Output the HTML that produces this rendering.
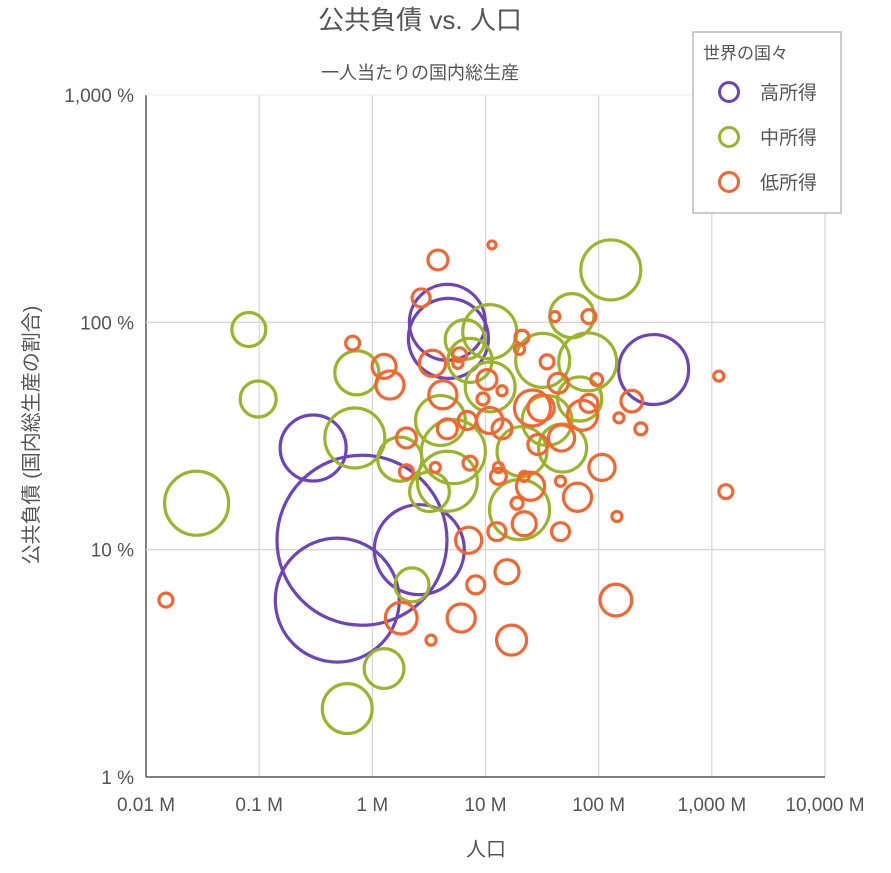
<!DOCTYPE html>
<html><head><meta charset="utf-8">
<style>
body{margin:0;background:#fff;width:891px;height:873px;overflow:hidden}
svg{display:block;font-family:"Liberation Sans","Noto Sans CJK JP",sans-serif}
</style></head>
<body>
<svg id="chart" width="891" height="873">
<text x="420" y="29" text-anchor="middle" font-size="26" fill="#555">公共負債 vs. 人口</text>
<text x="420" y="79" text-anchor="middle" font-size="18" fill="#555">一人当たりの国内総生産</text>
<g id="grid"></g>
<g id="bubbles"></g>
<g id="axes"></g>
<text x="486" y="856" text-anchor="middle" font-size="20" fill="#555">人口</text>
<text transform="translate(38,435) rotate(-90)" text-anchor="middle" font-size="20" fill="#555">公共負債 (国内総生産の割合)</text>
<g>
<rect x="693" y="32" width="148" height="181" fill="#fff" stroke="#bbb" stroke-width="1.5"/>
<text x="703" y="59" font-size="17" fill="#555">世界の国々</text>
<g><circle cx="729" cy="92" r="9.5" fill="none" stroke="#6d44bc" stroke-width="3"/><text x="760" y="99" font-size="19" fill="#555">高所得</text></g>
<g><circle cx="729" cy="137" r="9.5" fill="none" stroke="#9bb42a" stroke-width="3"/><text x="760" y="144" font-size="19" fill="#555">中所得</text></g>
<g><circle cx="729" cy="182" r="9.5" fill="none" stroke="#f4652f" stroke-width="3"/><text x="760" y="189" font-size="19" fill="#555">低所得</text></g>
</g>
</svg>
<script>
// x tick values (population, millions) and y tick values (debt %)
const xTicks=[0.01,0.1,1,10,100,1000,10000];
const xTickLabels=["0.01 M","0.1 M","1 M","10 M","100 M","1,000 M","10,000 M"];
const yTicks=[1,10,100,1000];
const yTickLabels=["1 %","10 %","100 %","1,000 %"];
// high income: population (M), debt (%), gdp per capita size
const highPop=[306,0.3,0.81,0.49,2.6,4.7,4.6];
const highDebt=[62,28,11,6,10,85,100];
const highSize=[136,121,803,427,225,178,160];
// middle income
const midPop=[0.081,0.098,0.028,0.73,0.70,2.24,1.27,0.6,128,58,80,10.9,6.6,32,5.2,4.6,1.75,21,48,20,35,11,4,68,3.2,7.3];
const midDebt=[93,46,16,60,31,7,3,2,170,107,67,91,84,68,27,20,25,27,28,15,37,52,37,46,18,68];
const midSize=[32,36,114,54,100,32,44,69,100,54,93,81,44,81,114,100,54,69,64,100,69,69,69,54,44,54];
// low income
const lowPop=[0.015,3.8,11.4,2.7,0.67,1.27,1.43,2.0,2.0,1.8,3.3,6.1,7.1,8.2,15.5,17,12.6,22,46,142,65,107,145,236,196,151,96,82,41,1153,1330,3.4,4.2,26,47,72,44,10.3,10.9,14,29,25,13,4.6,6.9,7.3,21,20,35,5.9,5.7,14,9.5,13,3.6,22,46,19,31,82];
const lowDebt=[6,188,219,128,81,64,53,31,22,5,4,5,11,7,8,4,12,13,12,6,17,23,14,34,45,38,56,106,106,58,18,66,48,42,31,39,54,56,37,34,29,19,21,34,37,24,86,76,67,72,66,50,46,23,23,21,20,16,42,44];
const lowSize=[5.4,11,1.8,9,5.4,16,22,11,5.4,28,2.8,22,19,9,16,25,9,16,9,28,22,19,2.8,4,13,2.8,4,5.4,2.8,2.8,5.4,19,22,36,19,25,11,11,19,11,11,22,7,11,9,5.4,5.4,2.8,5.4,5.4,2.8,2.8,4,2.8,2.8,2.8,2.8,4,19,9];

const X0=146,X1=825,Y0=777,Y1=95;
const xs=v=>X0+(Math.log10(v)+2)/6*(X1-X0);
const ys=v=>Y0-Math.log10(v)/3*(Y0-Y1);
const rs=s=>3*Math.sqrt(s);
const NS="http://www.w3.org/2000/svg";
const grid=document.getElementById("grid"),axes=document.getElementById("axes"),bub=document.getElementById("bubbles");
function mk(tag,attrs,parent){const e=document.createElementNS(NS,tag);for(const k in attrs)e.setAttribute(k,attrs[k]);parent.appendChild(e);return e;}
xTicks.forEach((t,i)=>{
  const x=xs(t);
  const l=mk("line",{x1:x,x2:x,y1:Y1,y2:Y0,stroke:i===0?"#555":"#d8d8d8","stroke-width":i===0?1.5:1.3},grid);
  
  
  const tx=mk("text",{x:x,y:811,"text-anchor":"middle","font-size":19,fill:"#555"},axes);
  tx.textContent=xTickLabels[i];
  
  
});
yTicks.forEach((t,i)=>{
  const y=ys(t);
  const l=mk("line",{x1:X0,x2:X1,y1:y,y2:y,stroke:i===0?"#555":(i===3?"#eee":"#d8d8d8"),"stroke-width":i===0?1.5:1.3},grid);
  
  
  const tx=mk("text",{x:134,y:y+7,"text-anchor":"end","font-size":19,fill:"#555"},axes);
  tx.textContent=yTickLabels[i];
  
  
});
function series(pop,debt,size,color,name){
  pop.forEach((p,i)=>{
    const c=mk("circle",{cx:xs(p),cy:ys(debt[i]),r:rs(size[i]),fill:"none",stroke:color,"stroke-width":3.2},bub);
    
    
  });
}
series(highPop,highDebt,highSize,"#6d44bc","bubble-high-income");
series(midPop,midDebt,midSize,"#9bb42a","bubble-middle-income");
series(lowPop,lowDebt,lowSize,"#f4652f","bubble-low-income");
</script>
</body></html>
